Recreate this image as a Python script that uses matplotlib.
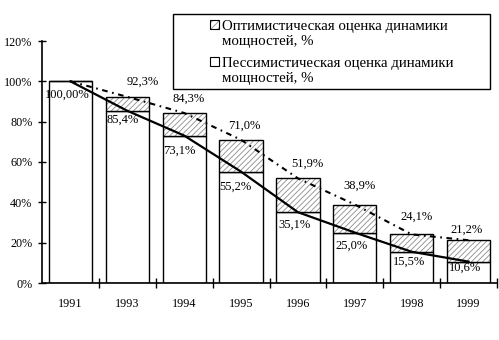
import matplotlib.pyplot as plt
import numpy as np
from matplotlib.patches import Rectangle

plt.rcParams['font.family'] = ['Liberation Serif', 'DejaVu Serif']

# данные
years = ['1991', '1993', '1994', '1995', '1996', '1997', '1998', '1999']
optimistic = [100.0, 92.3, 84.3, 71.0, 51.9, 38.9, 24.1, 21.2]
pessimistic = [100.0, 85.4, 73.1, 55.2, 35.1, 25.0, 15.5, 10.6]
opt_labels = ['', '92,3%', '84,3%', '71,0%', '51,9%', '38,9%', '24,1%', '21,2%']
pes_labels = ['100,00%', '85,4%', '73,1%', '55,2%', '35,1%', '25,0%', '15,5%', '10,6%']
legend_labels = ['Оптимистическая оценка динамики\nмощностей, %',
                 'Пессимистическая оценка динамики\nмощностей, %']

# смещения подписей (пиксели)
opt_dx = [0, 15, 4, 3, 9, 5, 5, -2]
opt_dy = [0, 15, 14, 14, 15, 19, 18, 11]
pes_dx = [-3, -5, -5, -6, -3, -3, -3, -4]
pes_dy = [-13, -9, -15, -15, -13, -13, -10, -6]

fig = plt.figure(figsize=(4.99, 3.40), dpi=100)
ax = fig.add_axes([42 / 499, 1 - 283 / 340, 455 / 499, 242 / 340])

x = np.arange(len(years)) + 0.5
w = 0.76
opt = np.array(optimistic)
pes = np.array(pessimistic)

# белые столбцы (пессимистическая оценка)
ax.bar(x, pes, width=w, color='white', edgecolor='black', linewidth=1.0, zorder=2)
# штриховка (разница до оптимистической)
plt.rcParams['hatch.linewidth'] = 0.6
ax.bar(x, opt - pes, bottom=pes, width=w, color='white', edgecolor='#8c8c8c',
       hatch='//////', linewidth=0, zorder=2)
ax.bar(x, opt - pes, bottom=pes, width=w, fill=False, edgecolor='black',
       linewidth=1.0, zorder=3)

# линии
ax.plot(x, pes, color='black', linewidth=1.6, zorder=4)
ax.plot(x, opt, color='black', linewidth=1.5, linestyle=(0, (2.7, 2.2, 0.8, 2.2)),
        zorder=4)

for i in range(len(years)):
    if opt_labels[i]:
        ax.annotate(opt_labels[i], (x[i], opt[i]), xytext=(opt_dx[i], opt_dy[i]),
                    textcoords='offset pixels', ha='center', va='center', fontsize=9,
                    zorder=5)
    ax.annotate(pes_labels[i], (x[i], pes[i]), xytext=(pes_dx[i], pes_dy[i]),
                textcoords='offset pixels', ha='center', va='center', fontsize=9,
                zorder=5)

ax.set_xlim(0, len(years))
ax.set_ylim(0, 120)
ax.set_yticks(np.arange(0, 121, 20))
ax.set_yticklabels([f'{v}%' for v in range(0, 121, 20)], fontsize=8.7)
ax.tick_params(axis='y', direction='inout', length=6, width=1, pad=4)

ax.set_xticks(x)
ax.set_xticklabels(years, fontsize=8.7)
ax.set_xticks(np.arange(1, len(years) + 1), minor=True)
ax.tick_params(axis='x', which='major', length=0, pad=11)
ax.tick_params(axis='x', which='minor', direction='inout', length=7, width=1)

for s in ['top', 'right']:
    ax.spines[s].set_visible(False)
for s in ['left', 'bottom']:
    ax.spines[s].set_linewidth(1.2)

# легенда
def px(xp, yp):
    return xp / 499, 1 - yp / 340

fig.add_artist(Rectangle(px(173, 89), 317 / 499, 75 / 340, transform=fig.transFigure,
                         facecolor='white', edgecolor='black', linewidth=1.0))
fig.add_artist(Rectangle(px(210, 29), 8.5 / 499, 8.5 / 340, transform=fig.transFigure,
                         facecolor='white', edgecolor='#8c8c8c', hatch='/////',
                         linewidth=0))
fig.add_artist(Rectangle(px(210, 29), 8.5 / 499, 8.5 / 340, transform=fig.transFigure,
                         fill=False, edgecolor='black', linewidth=0.8))
fig.add_artist(Rectangle(px(210, 66), 8.5 / 499, 8.5 / 340, transform=fig.transFigure,
                         facecolor='white', edgecolor='black', linewidth=0.8))
fig.text(*px(222, 34), legend_labels[0], fontsize=10.7, va='center', linespacing=1.25)
fig.text(*px(222, 71), legend_labels[1], fontsize=10.7, va='center', linespacing=1.25)

fig.savefig('out.png', dpi=100)
